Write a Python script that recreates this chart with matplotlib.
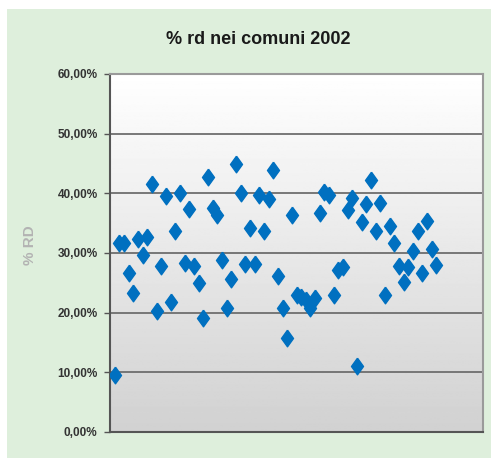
import numpy as np
import matplotlib.pyplot as plt
from matplotlib.patches import Rectangle
from matplotlib.ticker import FuncFormatter

plt.rcParams['font.family'] = ['Liberation Sans', 'DejaVu Sans']

# --------- DATA ---------
title = "% rd nei comuni 2002"
y_label = "% RD"
rd_pct = [
    9.6, 31.6, 31.6, 26.7, 23.3, 32.3, 29.7, 32.7, 41.6, 20.2,
    27.8, 39.5, 21.8, 33.7, 40.1, 28.4, 37.4, 27.9, 25.0, 19.1,
    42.8, 37.6, 36.3, 28.9, 20.7, 25.7, 44.9, 40.1, 28.2, 34.2,
    28.2, 39.8, 33.7, 39.1, 43.9, 26.1, 20.7, 15.8, 36.4, 23.0,
    22.7, 22.2, 20.8, 22.5, 36.7, 40.3, 39.7, 22.9, 27.1, 27.7,
    37.2, 39.3, 11.0, 35.2, 38.2, 42.2, 33.7, 38.4, 23.0, 34.6,
    31.6, 27.8, 25.1, 27.7, 30.4, 33.7, 26.7, 35.3, 30.7, 28.0,
]
comune = np.arange(1, len(rd_pct) + 1)
rd = np.array(rd_pct) / 100

# --------- FIGURE ---------
fig = plt.figure(figsize=(4.91, 4.58), dpi=100)
fig.patch.set_facecolor("white")
fig.patches.append(Rectangle((7 / 491, 0), 1, 449 / 458, transform=fig.transFigure,
                             facecolor="#deefdc", edgecolor="none", zorder=-10))

ax = fig.add_axes([110 / 491, 1 - 432 / 458, 373 / 491, 358 / 458])
ax.set_xlim(0, 80)
ax.set_ylim(0, 0.6)

# gradient plot area: white at top, light gray at bottom
ax.imshow(np.linspace(0.82, 1.0, 256).reshape(-1, 1), extent=[0, 80, 0, 0.6],
          aspect="auto", cmap="gray", vmin=0, vmax=1, origin="lower", zorder=0)

ax.set_yticks(np.arange(0, 0.61, 0.1))
ax.yaxis.set_major_formatter(FuncFormatter(lambda v, p: f"{v*100:.2f}%".replace(".", ",")))
for v in np.arange(0.1, 0.6, 0.1):
    ax.axhline(v, color="#6e6e6e", lw=1.3, zorder=1)
ax.set_xticks([])

diamond = [(0, 1), (0.72, 0), (0, -1), (-0.72, 0), (0, 1)]
ax.plot(comune, rd, linestyle="none", marker=diamond, markersize=12,
        color="#0070c0", markeredgecolor="#0070c0", zorder=3)

for s in ["top", "right"]:
    ax.spines[s].set_color("#9a9a9a")
    ax.spines[s].set_linewidth(1.5)
for s in ["left", "bottom"]:
    ax.spines[s].set_color("#555555")
    ax.spines[s].set_linewidth(1.5)
ax.tick_params(axis="y", length=4, width=1, color="#555555", pad=5,
               labelsize=8.5, labelcolor="#333333")
for lab in ax.get_yticklabels():
    lab.set_fontweight("bold")

fig.text(258 / 491, 1 - 40 / 458, title, ha="center", va="center",
         fontsize=13, fontweight="bold", color="#1a1a1a")
fig.text(30 / 491, 1 - 245 / 458, y_label, ha="center", va="center", rotation=90,
         fontsize=11, fontweight="bold", color="#b3b3b3")

fig.savefig("out.png", dpi=100, facecolor=fig.get_facecolor())
